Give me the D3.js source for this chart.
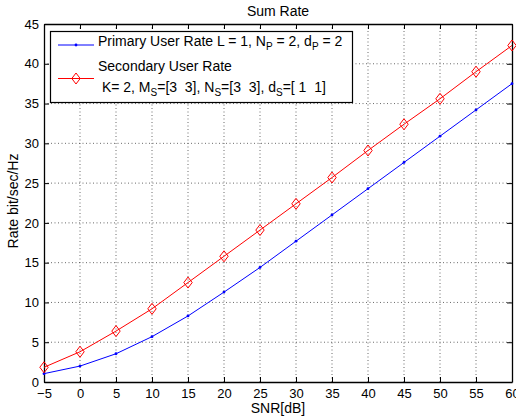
<!DOCTYPE html>
<html>
<head>
<meta charset="utf-8">
<script src="https://cdn.jsdelivr.net/npm/d3@7"></script>
<style>
  body { margin: 0; background: #fff; }
  svg { font-family: "Liberation Sans", Arial, Helvetica, sans-serif; }
</style>
</head>
<body>
<div id="chart-area"></div>
<script>
var snr = [-5, 0, 5, 10, 15, 20, 25, 30, 35, 40, 45, 50, 55, 60]
var primaryRate = [1.05, 2.0, 3.55, 5.7, 8.3, 11.3, 14.4, 17.7, 21.0, 24.3, 27.6, 30.9, 34.2, 37.5]
var secondaryRate = [1.85, 3.8, 6.4, 9.2, 12.5, 15.8, 19.1, 22.4, 25.7, 29.1, 32.4, 35.6, 39.0, 42.3]
var xTicks = [-5, 0, 5, 10, 15, 20, 25, 30, 35, 40, 45, 50, 55, 60]
var yTicks = [0, 5, 10, 15, 20, 25, 30, 35, 40, 45]

var margin = {top: 24, right: 4, bottom: 37, left: 44}
var width = 516 - margin.left - margin.right
var height = 419 - margin.top - margin.bottom

var convertToX = d3.scaleLinear()
    .domain([-5, 60])
    .range([0, width])

var convertToY = d3.scaleLinear()
    .domain([0, 45])
    .range([height, 0])

var svg = d3.select("#chart-area")
    .append("svg")
    .attr("width", 516)
    .attr("height", 419)

var group = svg.append("g")
    .attr("transform", "translate(" + margin.left + "," + margin.top + ")")

// dotted grid
group.append("g")
    .selectAll("line")
    .data(xTicks.slice(1, -1))
    .enter().append("line")
    .attr("x1", function(d){ return convertToX(d) })
    .attr("x2", function(d){ return convertToX(d) })
    .attr("y1", 0)
    .attr("y2", height)
    .attr("stroke", "#444")
    .attr("stroke-width", 0.8)
    .attr("stroke-dasharray", "1,2.5")

group.append("g")
    .selectAll("line")
    .data(yTicks.slice(1, -1))
    .enter().append("line")
    .attr("y1", function(d){ return convertToY(d) })
    .attr("y2", function(d){ return convertToY(d) })
    .attr("x1", 0)
    .attr("x2", width)
    .attr("stroke", "#444")
    .attr("stroke-width", 0.8)
    .attr("stroke-dasharray", "1,2.5")

// axes, ticks pointing inward on all sides
var xAxisCall = d3.axisBottom(convertToX).tickValues(xTicks).tickSizeInner(-5).tickSizeOuter(0).tickPadding(7)
    .tickFormat(function(d){ return d < 0 ? "\u2212" + Math.abs(d) : d })
var yAxisCall = d3.axisLeft(convertToY).tickValues(yTicks).tickSizeInner(-5).tickSizeOuter(0).tickPadding(5)
var xTopCall = d3.axisTop(convertToX).tickValues(xTicks).tickSizeInner(-5).tickSizeOuter(0).tickFormat("")
var yRightCall = d3.axisRight(convertToY).tickValues(yTicks).tickSizeInner(-5).tickSizeOuter(0).tickFormat("")

group.append("g").attr("class", "axis")
    .attr("transform", "translate(0," + height + ")")
    .call(xAxisCall)
group.append("g").attr("class", "axis").call(yAxisCall)
group.append("g").attr("class", "axis").call(xTopCall)
group.append("g").attr("class", "axis")
    .attr("transform", "translate(" + width + ",0)")
    .call(yRightCall)

group.selectAll(".axis path").attr("stroke", "#000").attr("stroke-width", 1.3)
group.selectAll(".axis line").attr("stroke", "#000").attr("stroke-width", 1)
group.selectAll(".axis text")
    .attr("font-size", 13)
    .attr("font-family", "Liberation Sans, Arial, sans-serif")
    .attr("fill", "#000")

// series
var line = d3.line()
    .x(function(d){ return convertToX(d[0]) })
    .y(function(d){ return convertToY(d[1]) })

var primaryData = d3.zip(snr, primaryRate)
var secondaryData = d3.zip(snr, secondaryRate)

group.append("path")
    .datum(primaryData)
    .attr("d", line)
    .attr("fill", "none")
    .attr("stroke", "#0000ff")
    .attr("stroke-width", 1)

group.selectAll(".dot")
    .data(primaryData)
    .enter().append("circle")
    .attr("class", "dot")
    .attr("cx", function(d){ return convertToX(d[0]) })
    .attr("cy", function(d){ return convertToY(d[1]) })
    .attr("r", 1.4)
    .attr("fill", "#0000ff")

group.append("path")
    .datum(secondaryData)
    .attr("d", line)
    .attr("fill", "none")
    .attr("stroke", "#ff0000")
    .attr("stroke-width", 1)

var diamond = "M0,-5.5L4.2,0L0,5.5L-4.2,0Z"
group.selectAll(".dia")
    .data(secondaryData)
    .enter().append("path")
    .attr("class", "dia")
    .attr("d", diamond)
    .attr("transform", function(d){ return "translate(" + convertToX(d[0]) + "," + convertToY(d[1]) + ")" })
    .attr("fill", "none")
    .attr("stroke", "#ff0000")
    .attr("stroke-width", 1)

// labels
svg.append("text")
    .attr("x", margin.left + width / 2)
    .attr("y", 16)
    .attr("text-anchor", "middle")
    .attr("font-size", 14)
    .text("Sum Rate")

svg.append("text")
    .attr("x", margin.left + width / 2)
    .attr("y", 413)
    .attr("text-anchor", "middle")
    .attr("font-size", 14)
    .text("SNR[dB]")

svg.append("text")
    .attr("transform", "translate(18,201) rotate(-90)")
    .attr("text-anchor", "middle")
    .attr("font-size", 14)
    .text("Rate bit/sec/Hz")

// legend
var legend = svg.append("g")
legend.append("rect")
    .attr("x", 50.5).attr("y", 31.5)
    .attr("width", 302).attr("height", 71)
    .attr("fill", "#fff")
    .attr("stroke", "#000")
    .attr("stroke-width", 1.2)

legend.append("line")
    .attr("x1", 58).attr("x2", 94).attr("y1", 45).attr("y2", 45)
    .attr("stroke", "#0000ff")
legend.append("circle")
    .attr("cx", 76).attr("cy", 45).attr("r", 1.4).attr("fill", "#0000ff")

legend.append("line")
    .attr("x1", 58).attr("x2", 94).attr("y1", 78.5).attr("y2", 78.5)
    .attr("stroke", "#ff0000")
legend.append("path")
    .attr("d", diamond)
    .attr("transform", "translate(76,78.5)")
    .attr("fill", "none")
    .attr("stroke", "#ff0000")

// text pieces; a piece with sub is drawn lowered and smaller
function addText(y, parts) {
    var t = legend.append("text")
        .attr("x", 98).attr("y", y)
        .attr("font-size", 14)
        .attr("xml:space", "preserve")
    var lowered = false
    parts.forEach(function(p){
        if (p.sub) {
            t.append("tspan").attr("dy", 4).attr("font-size", 10).text(p.sub)
            lowered = true
        } else {
            t.append("tspan").attr("dy", lowered ? -4 : 0).text(p.t)
            lowered = false
        }
    })
}

addText(46, [{t: "Primary User Rate L = 1, N"}, {sub: "P"}, {t: " = 2, d"}, {sub: "P"}, {t: " = 2"}])
addText(70.5, [{t: "Secondary User Rate"}])
addText(92, [{t: " K= 2, M"}, {sub: "S"}, {t: "=[3  3], N"}, {sub: "S"}, {t: "=[3  3], d"}, {sub: "S"}, {t: "=[ 1  1]"}])
</script>
</body>
</html>
